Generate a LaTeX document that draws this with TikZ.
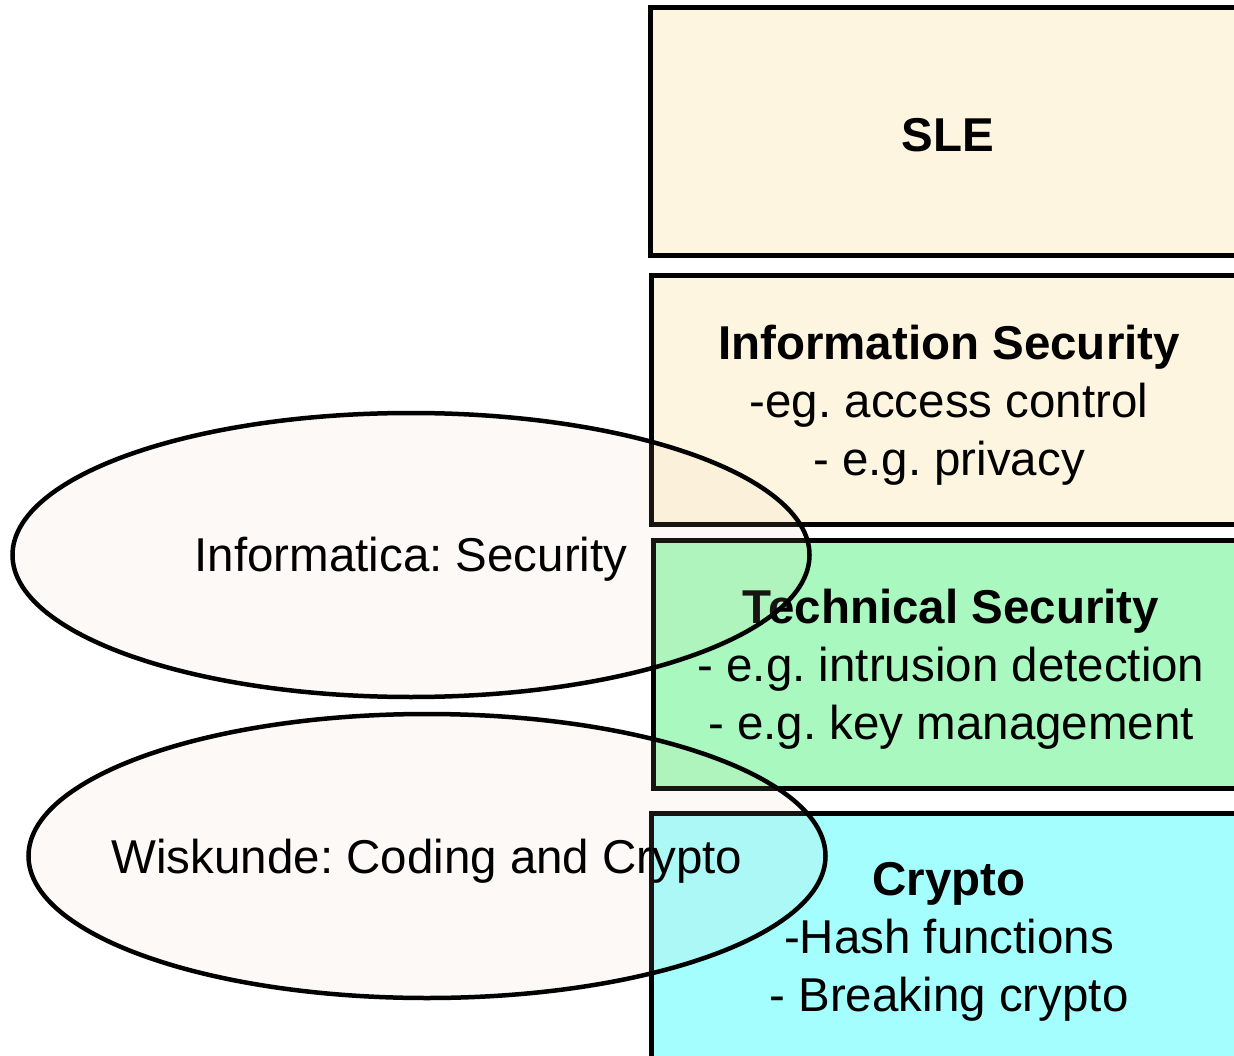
\documentclass[tikz,border=0pt]{standalone}
\usepackage{fontspec}
\setmainfont{Liberation Sans}
\frenchspacing
\usetikzlibrary{shapes.geometric}
\definecolor{slefill}{RGB}{253,245,223}
\definecolor{greenfill}{RGB}{168,248,191}
\definecolor{cyanfill}{RGB}{165,254,254}
\definecolor{ellfill}{RGB}{240,200,180}
\tikzset{
  layerbox/.style={draw=black, line width=5pt, rectangle, minimum width=596pt, minimum height=248pt, inner sep=0pt, align=center, font=\fontsize{47.5}{58}\selectfont},
  zone/.style={draw=black, line width=4.5pt, ellipse, fill=ellfill, fill opacity=0.1, inner sep=0pt, minimum width=797pt, minimum height=284pt},
  zonetext/.style={font=\fontsize{47.5}{58}\selectfont}
}
\begin{document}
\begin{tikzpicture}[x=1pt,y=-1pt]
\useasboundingbox (0,0) rectangle (1234,1056);
\clip (0,0) rectangle (1234,1056);
\node[layerbox, fill=slefill] (sle) at (948,132) {};
\node[layerbox, fill=slefill] (infosec) at (949,400) {};
\node[layerbox, fill=greenfill] (techsec) at (951,664) {};
\node[layerbox, fill=cyanfill] (crypto) at (949,937) {};
\node[layerbox, draw=none] (sletext) at (sle.center) [yshift=-3pt] {\textbf{SLE}};
\node[layerbox, draw=none] (infosectext) at (infosec.center) [yshift=-5pt] {\textbf{Information Security}\\-eg. access control\\- e.g. privacy};
\node[layerbox, draw=none] (techsectext) at (techsec.center) [yshift=-5pt] {\textbf{Technical Security}\\- e.g. intrusion detection\\- e.g. key management};
\node[layerbox, draw=none] (cryptotext) at (crypto.center) [yshift=-5pt] {\textbf{Crypto}\\-Hash functions\\- Breaking crypto};
\node[zone] (informatica) at (411,555) {};
\node[zonetext] (informaticatext) at (informatica.center) [yshift=-4pt] {Informatica: Security};
\node[zone] (wiskunde) at (427,856) {};
\node[zonetext] (wiskundetext) at (wiskunde.center) [yshift=-5pt] {Wiskunde: Coding and Crypto};
\end{tikzpicture}
\end{document}
